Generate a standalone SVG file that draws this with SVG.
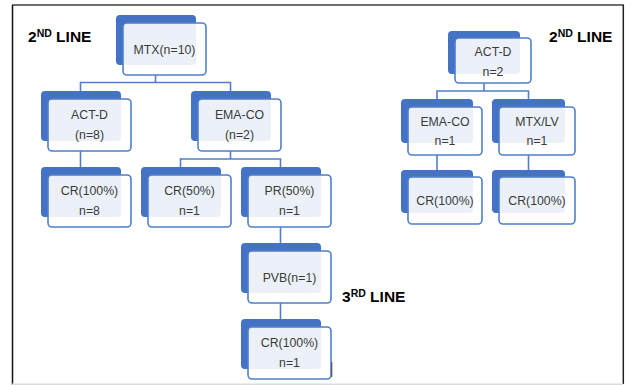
<svg xmlns="http://www.w3.org/2000/svg" width="625" height="385" viewBox="0 0 625 385">
<defs>
<style>
.bk{fill:#4472C4;}
.fr{fill:#ffffff;fill-opacity:0.9;stroke:#4f7fcc;stroke-width:1.6;}
.t{font-family:"Liberation Sans",Arial,sans-serif;font-size:12.3px;fill:#3a3a3a;text-anchor:middle;}
.h{font-family:"Liberation Sans",Arial,sans-serif;font-weight:bold;font-size:15.5px;fill:#000;}
.c{stroke:#4f7fcc;stroke-width:1.6;fill:none;}
</style>
</defs>
<rect width="625" height="385" fill="#fff"/>
<g id="frame">
<line x1="12" y1="5" x2="624" y2="5" stroke="#6f6f6f" stroke-width="2"/>
<line x1="12.5" y1="5" x2="12.5" y2="385" stroke="#111" stroke-width="1.5"/>
<line x1="623.3" y1="5" x2="623.3" y2="384" stroke="#222" stroke-width="1.5"/>
<line x1="12" y1="384.2" x2="623" y2="384.2" stroke="#dcdcdc" stroke-width="1.5"/>
</g>
<g id="titles">
<text class="h" x="28" y="42">2<tspan font-size="10.5" dy="-5">ND</tspan><tspan dy="5"> LINE</tspan></text>
<text class="h" x="549" y="42">2<tspan font-size="10.5" dy="-5">ND</tspan><tspan dy="5"> LINE</tspan></text>
<text class="h" x="342" y="302">3<tspan font-size="10.5" dy="-5">RD</tspan><tspan dy="5"> LINE</tspan></text>
</g>
<g id="connectors">
<path class="c" d="M155.5 75V82.5M80.5 91V82.5H230.5V91"/>
<path class="c" d="M80.5 151V167"/>
<path class="c" d="M230.5 151V159M180.5 167V159H280.5V167"/>
<path class="c" d="M280.5 227V243M280.5 303V319"/>
<path class="c" d="M484 83V91M437 99V91H528.5V99"/>
<path class="c" d="M437 155V170M528.5 155V170"/>
</g>
<g id="n_mtx">
<rect class="bk" x="116" y="15" width="80" height="50" rx="4"/>
<rect class="fr" x="123" y="23" width="83" height="52" rx="4"/>
<text class="t" x="164.5" y="54">MTX(n=10)</text>
</g>
<g id="n_actd">
<rect class="bk" x="41" y="91" width="80" height="50" rx="4"/>
<rect class="fr" x="48" y="99" width="83" height="52" rx="4"/>
<text class="t" x="89.5" y="119">ACT-D</text>
<text class="t" x="89.5" y="139">(n=8)</text>
</g>
<g id="n_emaco">
<rect class="bk" x="191" y="91" width="80" height="50" rx="4"/>
<rect class="fr" x="198" y="99" width="83" height="52" rx="4"/>
<text class="t" x="239.5" y="119">EMA-CO</text>
<text class="t" x="239.5" y="139">(n=2)</text>
</g>
<g id="n_cr100a">
<rect class="bk" x="41" y="167" width="80" height="50" rx="4"/>
<rect class="fr" x="48" y="175" width="83" height="52" rx="4"/>
<text class="t" x="89.5" y="195">CR(100%)</text>
<text class="t" x="89.5" y="215">n=8</text>
</g>
<g id="n_cr50">
<rect class="bk" x="141" y="167" width="80" height="50" rx="4"/>
<rect class="fr" x="148" y="175" width="83" height="52" rx="4"/>
<text class="t" x="189.5" y="195">CR(50%)</text>
<text class="t" x="189.5" y="215">n=1</text>
</g>
<g id="n_pr50">
<rect class="bk" x="241" y="167" width="80" height="50" rx="4"/>
<rect class="fr" x="248" y="175" width="83" height="52" rx="4"/>
<text class="t" x="289.5" y="195">PR(50%)</text>
<text class="t" x="289.5" y="215">n=1</text>
</g>
<g id="n_pvb">
<rect class="bk" x="241" y="243" width="80" height="50" rx="4"/>
<rect class="fr" x="248" y="251" width="83" height="52" rx="4"/>
<text class="t" x="289.5" y="281.5">PVB(n=1)</text>
</g>
<g id="n_cr100b">
<rect class="bk" x="241" y="319" width="80" height="50" rx="4"/>
<rect class="fr" x="248" y="327" width="83" height="52" rx="4"/>
<text class="t" x="289.5" y="347">CR(100%)</text>
<text class="t" x="289.5" y="367">n=1</text>
</g>
<line x1="331.8" y1="362" x2="331.8" y2="377" stroke="#444" stroke-width="1"/>
<g id="n_actd2">
<rect class="bk" x="448" y="31" width="72" height="43" rx="4"/>
<rect class="fr" x="455" y="38" width="76" height="45" rx="4"/>
<text class="t" x="493" y="55.5">ACT-D</text>
<text class="t" x="493" y="76">n=2</text>
</g>
<g id="n_emaco2">
<rect class="bk" x="401" y="99" width="72" height="44" rx="4"/>
<rect class="fr" x="408" y="107" width="74" height="48" rx="4"/>
<text class="t" x="445" y="126">EMA-CO</text>
<text class="t" x="445" y="145">n=1</text>
</g>
<g id="n_mtxlv">
<rect class="bk" x="492" y="99" width="73" height="44" rx="4"/>
<rect class="fr" x="499" y="107" width="76" height="48" rx="4"/>
<text class="t" x="537" y="126">MTX/LV</text>
<text class="t" x="537" y="145">n=1</text>
</g>
<g id="n_cr100c">
<rect class="bk" x="401" y="170" width="72" height="43" rx="4"/>
<rect class="fr" x="408" y="177" width="74" height="47" rx="4"/>
<text class="t" x="445" y="205">CR(100%)</text>
</g>
<g id="n_cr100d">
<rect class="bk" x="492" y="170" width="73" height="43" rx="4"/>
<rect class="fr" x="499" y="177" width="76" height="47" rx="4"/>
<text class="t" x="537" y="205">CR(100%)</text>
</g>
</svg>
